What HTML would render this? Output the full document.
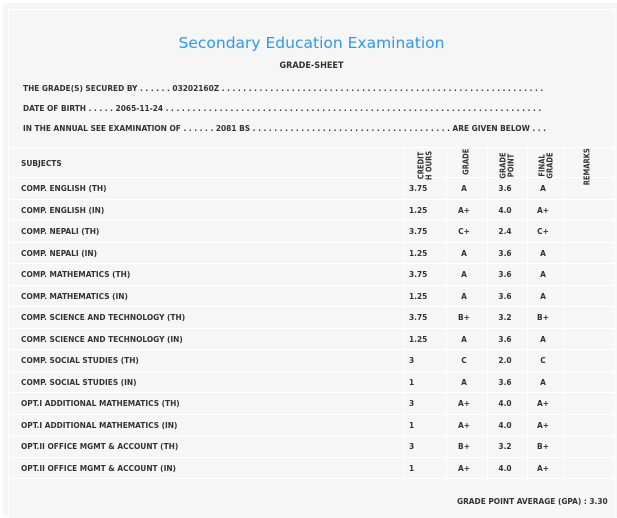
<!DOCTYPE html>
<html><head><style>
body{margin:0;width:617px;height:517px;background:#fff;position:relative;overflow:hidden;font-family:"DejaVu Sans Condensed","DejaVu Sans","Liberation Sans",sans-serif;color:#333;}
#outer{position:absolute;left:3px;top:3px;width:614px;height:514px;background:#f6f6f6;}
#box{position:absolute;left:8px;top:9px;width:605px;height:508px;border-left:1px solid #fff;border-top:1px solid #fff;border-right:1px solid #fff;background:#f6f6f6;}
.t{position:absolute;font-size:8.25px;font-weight:bold;white-space:nowrap;line-height:10px;}
.h{position:absolute;left:8px;width:607px;height:1px;background:#fff;}
.v{position:absolute;width:1px;background:#fff;top:147px;height:333px;}
.c{position:absolute;font-size:8.25px;font-weight:bold;text-align:center;width:40px;line-height:10px;}
.r{position:absolute;font-size:7.5px;font-weight:bold;transform:rotate(-90deg);transform-origin:center;text-align:center;line-height:7.5px;width:40px;}
</style></head><body>
<div id="outer"></div><div id="box"></div>
<div style="position:absolute;left:0;width:623px;top:34px;text-align:center;font-size:15.5px;color:#2b9af3;font-family:'DejaVu Sans','Liberation Sans',sans-serif;">Secondary Education Examination</div>
<div class="t" style="left:0;width:623px;text-align:center;top:61px;font-size:9px;">GRADE-SHEET</div>
<div class="t" style="left:23px;top:83px;">THE GRADE(S) SECURED BY . . . . . . 03202160Z . . . . . . . . . . . . . . . . . . . . . . . . . . . . . . . . . . . . . . . . . . . . . . . . . . . . . . . . . . . .</div>
<div class="t" style="left:23px;top:103px;">DATE OF BIRTH . . . . . 2065-11-24 . . . . . . . . . . . . . . . . . . . . . . . . . . . . . . . . . . . . . . . . . . . . . . . . . . . . . . . . . . . . . . . . . . . . . .</div>
<div class="t" style="left:23px;top:123px;">IN THE ANNUAL SEE EXAMINATION OF . . . . . . 2081 BS . . . . . . . . . . . . . . . . . . . . . . . . . . . . . . . . . . . . . ARE GIVEN BELOW . . .</div>
<div class="h" style="top:147px"></div>
<div class="h" style="top:177px"></div>
<div class="v" style="left:403px"></div><div class="v" style="left:446px"></div><div class="v" style="left:487px"></div><div class="v" style="left:527px"></div><div class="v" style="left:564px"></div>
<div class="t" style="left:21px;top:158px;">SUBJECTS</div>
<div class="r" style="left:405px;top:158px;">CREDIT<br>H OURS</div>
<div class="r" style="left:446px;top:158px;">GRADE</div>
<div class="r" style="left:487px;top:158px;">GRADE<br>POINT</div>
<div class="r" style="left:526px;top:158px;">FINAL<br>GRADE</div>
<div class="r" style="left:567px;top:163px;">REMARKS</div>
<div id="rows"></div>
<script>
var d=[["COMP. ENGLISH (TH)","3.75","A","3.6","A"],["COMP. ENGLISH (IN)","1.25","A+","4.0","A+"],["COMP. NEPALI (TH)","3.75","C+","2.4","C+"],["COMP. NEPALI (IN)","1.25","A","3.6","A"],["COMP. MATHEMATICS (TH)","3.75","A","3.6","A"],["COMP. MATHEMATICS (IN)","1.25","A","3.6","A"],["COMP. SCIENCE AND TECHNOLOGY (TH)","3.75","B+","3.2","B+"],["COMP. SCIENCE AND TECHNOLOGY (IN)","1.25","A","3.6","A"],["COMP. SOCIAL STUDIES (TH)","3","C","2.0","C"],["COMP. SOCIAL STUDIES (IN)","1","A","3.6","A"],["OPT.I ADDITIONAL MATHEMATICS (TH)","3","A+","4.0","A+"],["OPT.I ADDITIONAL MATHEMATICS (IN)","1","A+","4.0","A+"],["OPT.II OFFICE MGMT &amp; ACCOUNT (TH)","3","B+","3.2","B+"],["OPT.II OFFICE MGMT &amp; ACCOUNT (IN)","1","A+","4.0","A+"]];
var h="";
for(var i=0;i<d.length;i++){var y=183+i*21.5;var r=d[i];
h+='<div class="t" style="left:21px;top:'+y+'px">'+r[0]+'</div>';
h+='<div class="t" style="left:409px;top:'+y+'px">'+r[1]+'</div>';
h+='<div class="c" style="left:444px;top:'+y+'px">'+r[2]+'</div>';
h+='<div class="c" style="left:485px;top:'+y+'px">'+r[3]+'</div>';
h+='<div class="c" style="left:523px;top:'+y+'px">'+r[4]+'</div>';
h+='<div class="h" style="top:'+(198.5+i*21.5)+'px"></div>';}
document.getElementById("rows").innerHTML=h;
</script>
<div class="t" style="left:457px;top:496px;">GRADE POINT AVERAGE (GPA) : 3.30</div>
</body></html>
